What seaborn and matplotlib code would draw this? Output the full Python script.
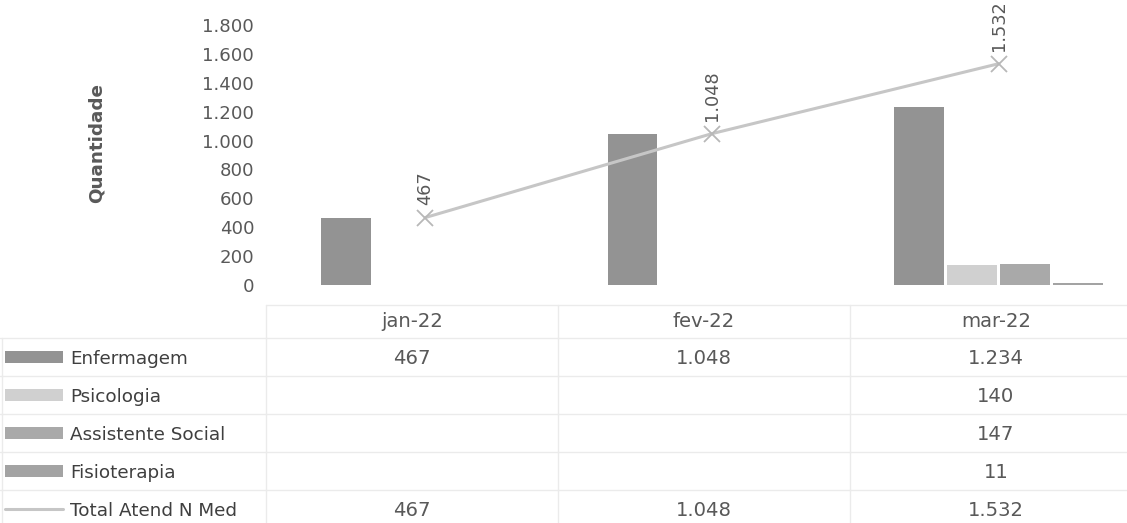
import matplotlib
matplotlib.use("Agg")
import matplotlib.pyplot as plt
from matplotlib.lines import Line2D
from matplotlib.patches import Rectangle
import numpy as np
import pandas as pd
import seaborn as sns

# ---- data -------------------------------------------------------------
months = ["jan-22", "fev-22", "mar-22"]
areas = ["Enfermagem", "Psicologia", "Assistente Social", "Fisioterapia"]
enfermagem = [467, 1048, 1234]
psicologia = [None, None, 140]
assistente_social = [None, None, 147]
fisioterapia = [None, None, 11]
total_label = "Total Atend N Med"
total = [467, 1048, 1532]
y_ticks = [0, 200, 400, 600, 800, 1000, 1200, 1400, 1600, 1800]

series = {
    "Enfermagem": enfermagem,
    "Psicologia": psicologia,
    "Assistente Social": assistente_social,
    "Fisioterapia": fisioterapia,
}
bar_colors = {
    "Enfermagem": "#939393",
    "Psicologia": "#d0d0d0",
    "Assistente Social": "#a9a9a9",
    "Fisioterapia": "#a3a3a3",
}
line_color = "#c6c6c6"
text_color = "#595959"
label_color = "#3f3f3f"
grid_color = "#ebebeb"


def fmt(v):
    return f"{v:,}".replace(",", ".")


rows = []
for area in areas:
    for m, v in zip(months, series[area]):
        if v is not None:
            rows.append({"mes": m, "area": area, "valor": v})
df = pd.DataFrame(rows)

# ---- figure -----------------------------------------------------------
sns.set_theme(style="white")
plt.rcParams["font.family"] = ["DejaVu Sans"]

W, H = 1127, 523
fig = plt.figure(figsize=(W / 100, H / 100), dpi=100)
fig.patch.set_facecolor("white")

# chart area (pixels): left 282, width 860, baseline y=285, top y=25
ax = fig.add_axes([282 / W, (H - 285) / H, 860 / W, 260 / H])
ax.set_facecolor("white")

sns.barplot(
    data=df, x="mes", y="valor", hue="area",
    order=months, hue_order=areas, palette=bar_colors,
    width=0.74, gap=0.06, saturation=1, legend=False,
    linewidth=0, ax=ax,
)

x_pos = np.arange(len(months))
sns.lineplot(
    x=x_pos, y=total, ax=ax, color=line_color, linewidth=2.2,
    marker="x", markersize=11, markeredgewidth=1.3,
    markeredgecolor="#b8b8b8", sort=False, legend=False,
)

for i, v in enumerate(total):
    ax.annotate(fmt(v), (i, v), xytext=(0, 13), textcoords="offset pixels",
                rotation=90, ha="center", va="bottom", fontsize=12.8,
                color=text_color, annotation_clip=False)

ax.set_xlim(-0.5, len(months) - 0.5)
ax.set_ylim(0, 1800)
ax.set_yticks(y_ticks)
ax.set_yticklabels([fmt(t) for t in y_ticks])
ax.tick_params(axis="y", length=0, pad=20, labelsize=13.1, labelcolor=text_color)
ax.set_xticks(x_pos)
ax.set_xticklabels([])
ax.tick_params(axis="x", length=0)
ax.set_xlabel("")
ax.set_ylabel("Quantidade", fontsize=13.2, fontweight="bold", color=text_color)
ax.yaxis.set_label_coords((106 - 282) / 860, (285 - 143) / 260)
for s in ax.spines.values():
    s.set_visible(False)

# ---- data table below the chart ---------------------------------------
def fy(p):
    return 1 - p / H


tax = fig.add_axes([266 / W, 0, 876 / W, (H - 338) / H])
tax.set_xlim(-0.5, len(months) - 0.5)
tax.set_ylim(H, 338)
tax.patch.set_alpha(0)
for s in tax.spines.values():
    s.set_visible(False)
tax.set_yticks([])
tax.xaxis.tick_top()
tax.set_xticks(x_pos)
tax.set_xticklabels(months)
tax.tick_params(axis="x", length=0, pad=5, labelsize=14.1, labelcolor=text_color)

row_names = areas + [total_label]
row_values = [enfermagem, psicologia, assistente_social, fisioterapia, total]
row_centers = [357, 395, 433, 471, 509]
row_lines = [338, 376, 414, 452, 490]

# faint grid of the table
fig.add_artist(Line2D([266 / W, 1], [fy(305), fy(305)], color=grid_color, lw=1))
for p in row_lines:
    fig.add_artist(Line2D([0, 1], [fy(p), fy(p)], color=grid_color, lw=1))
fig.add_artist(Line2D([2 / W, 2 / W], [fy(338), 0], color=grid_color, lw=1))
for b in x_pos - 0.5:
    tax.plot([b, b], [305, H], color=grid_color, lw=1, clip_on=False)

for name, vals, yc in zip(row_names, row_values, row_centers):
    # legend key for the row
    if name == total_label:
        fig.add_artist(Line2D([5 / W, 63 / W], [fy(yc), fy(yc)],
                              color=line_color, lw=2.2))
    else:
        fig.add_artist(Rectangle((5 / W, fy(yc + 6)), 58 / W, 12 / H,
                                 transform=fig.transFigure,
                                 facecolor=bar_colors[name], edgecolor="none"))
    fig.text(70 / W, fy(yc), name, ha="left", va="center_baseline",
             fontsize=13.2, color=label_color)
    for i, v in enumerate(vals):
        if v is not None:
            tax.text(i, yc, fmt(v), ha="center", va="center_baseline",
                     fontsize=14.1, color=text_color, clip_on=False)

fig.savefig("out.png", dpi=100, facecolor="white")
